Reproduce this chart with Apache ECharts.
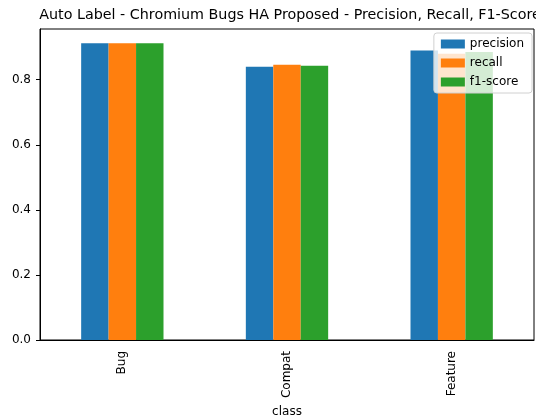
<!DOCTYPE html>
<html><head><meta charset="utf-8">
<script src="https://cdn.jsdelivr.net/npm/echarts@6/dist/echarts.min.js"></script>
<style>html,body{margin:0;padding:0;background:#fff}#c{width:536px;height:416px}</style>
</head><body><div id="c"></div>
<script>
const categories = ['Bug', 'Compat', 'Feature'];
const precision = [0.912, 0.840, 0.890];
const recall = [0.912, 0.846, 0.880];
const f1score = [0.912, 0.843, 0.885];
const yTicks = [0, 0.2, 0.4, 0.6, 0.8];

const chart = echarts.init(document.getElementById('c'));
const font = 'DejaVu Sans';
const mk = (name, data, color) => ({
  name, type: 'bar', data, barGap: '0%', barCategoryGap: '50%',
  itemStyle: { color }, emphasis: { disabled: true }
});
chart.setOption({
  animation: false,
  textStyle: { fontFamily: font },
  title: {
    text: 'Auto Label - Chromium Bugs HA Proposed - Precision, Recall, F1-Score',
    left: 285, textAlign: 'center', top: 3,
    textStyle: { fontFamily: font, fontSize: 14.3, fontWeight: 'normal', color: '#000' }
  },
  legend: {
    orient: 'vertical', right: 4, top: 33,
    itemWidth: 24, itemHeight: 9, itemGap: 7,
    padding: [5, 8, 5, 7],
    backgroundColor: 'rgba(255,255,255,0.8)', borderColor: '#d0d0d0', borderWidth: 1, borderRadius: 3,
    textStyle: { fontFamily: font, fontSize: 12, color: '#000' },
    icon: 'rect',
    data: ['precision', 'recall', 'f1-score']
  },
  grid: { left: 40, right: 2, top: 29, bottom: 76, show: true, borderColor: '#000', borderWidth: 1,
    outerBoundsMode: 'none', containLabel: false },
  xAxis: {
    type: 'category', data: categories,
    name: 'class', nameLocation: 'middle', nameGap: 59,
    nameTextStyle: { fontFamily: font, fontSize: 12, color: '#000' },
    axisLine: { lineStyle: { color: '#000' } },
    axisTick: { alignWithLabel: true, length: 4, lineStyle: { color: '#000' } },
    axisLabel: { rotate: 90, margin: 11, fontFamily: font, fontSize: 12, color: '#000' }
  },
  yAxis: {
    type: 'value', min: 0, max: 0.956, interval: 0.2,
    splitLine: { show: false },
    axisLine: { show: true, lineStyle: { color: '#000' } },
    axisTick: { show: true, length: 4, lineStyle: { color: '#000' }, customValues: yTicks },
    axisLabel: { margin: 9, fontFamily: font, fontSize: 12, color: '#000', customValues: yTicks,
      formatter: v => v.toFixed(1) }
  },
  series: [
    mk('precision', precision, '#1f77b4'),
    mk('recall', recall, '#ff7f0e'),
    mk('f1-score', f1score, '#2ca02c')
  ]
});
</script></body></html>
